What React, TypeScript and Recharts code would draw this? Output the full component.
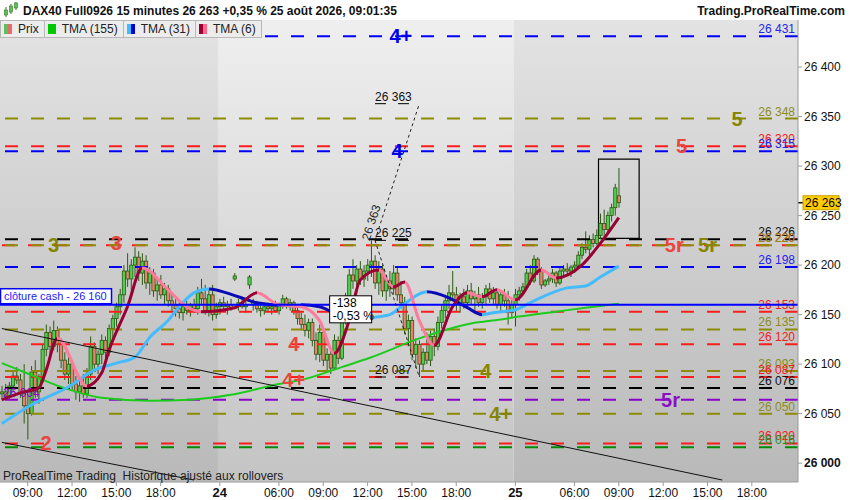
import React from 'react';
import {
  ComposedChart, Bar, Line, XAxis, YAxis,
  ReferenceLine, ReferenceArea, ReferenceDot,
} from 'recharts';

type OHLC = [number, number, number, number];

// 15 minute bars [open, high, low, close]
// 23 Aug, 07:15 -> 21:45
const day23: OHLC[] = [
  [26070, 26078, 26064, 26072], [26072, 26080, 26066, 26068], [26068, 26082, 26064, 26078],
  [26078, 26092, 26072, 26088], [26088, 26097, 26080, 26084], [26084, 26090, 26066, 26070], [26070, 26100, 26040, 26058],
  [26058, 26070, 26024, 26050], [26050, 26098, 26048, 26092], [26092, 26104, 26066, 26072], [26072, 26090, 26060, 26086],
  [26086, 26120, 26082, 26115], [26115, 26140, 26108, 26132], [26132, 26138, 26110, 26118], [26118, 26144, 26114, 26134],
  [26134, 26138, 26112, 26120], [26120, 26126, 26096, 26104], [26104, 26112, 26084, 26090], [26090, 26108, 26080, 26100],
  [26100, 26104, 26074, 26080], [26080, 26088, 26064, 26072], [26072, 26084, 26062, 26078], [26078, 26090, 26066, 26070],
  [26070, 26096, 26066, 26090], [26090, 26128, 26084, 26118], [26118, 26122, 26092, 26100], [26100, 26114, 26090, 26110],
  [26110, 26130, 26100, 26124], [26124, 26128, 26104, 26112], [26112, 26140, 26108, 26136], [26136, 26150, 26124, 26146],
  [26146, 26162, 26138, 26158], [26158, 26176, 26150, 26170], [26170, 26200, 26162, 26194], [26194, 26212, 26178, 26186],
  [26186, 26206, 26172, 26200], [26200, 26218, 26188, 26208], [26208, 26214, 26184, 26192], [26192, 26212, 26180, 26204],
  [26204, 26210, 26176, 26182], [26182, 26198, 26170, 26192], [26192, 26196, 26168, 26174], [26174, 26188, 26164, 26180],
  [26180, 26190, 26166, 26170], [26170, 26182, 26160, 26176], [26176, 26180, 26158, 26164], [26164, 26172, 26152, 26160],
  [26160, 26168, 26148, 26156], [26156, 26164, 26146, 26152], [26152, 26160, 26144, 26158], [26158, 26164, 26150, 26154],
  [26154, 26162, 26148, 26160], [26160, 26166, 26152, 26156], [26156, 26178, 26150, 26172], [26172, 26186, 26160, 26166],
  [26166, 26180, 26150, 26154], [26154, 26176, 26148, 26170], [26170, 26180, 26144, 26150], [26150, 26162, 26146, 26158],
];

// 24 Aug, 02:00 -> 21:45
const day24: OHLC[] = [
  [26158, 26166, 26150, 26162], [26162, 26168, 26154, 26158], [26158, 26164, 26150, 26160], [26160, 26166, 26154, 26156],
  [26186, 26192, 26184, 26189], [26160, 26166, 26154, 26162], [26162, 26168, 26156, 26158], [26158, 26164, 26152, 26160],
  [26180, 26190, 26176, 26188], [26160, 26166, 26154, 26162], [26162, 26164, 26152, 26156], [26156, 26160, 26148, 26154],
  [26154, 26162, 26150, 26158], [26158, 26162, 26152, 26156], [26156, 26160, 26150, 26158], [26158, 26164, 26152, 26154],
  [26154, 26162, 26150, 26160], [26160, 26170, 26156, 26166], [26166, 26168, 26156, 26160], [26160, 26166, 26154, 26162],
  [26162, 26164, 26150, 26154], [26154, 26160, 26140, 26146], [26146, 26152, 26134, 26140], [26140, 26150, 26128, 26134],
  [26134, 26146, 26126, 26142], [26142, 26146, 26118, 26124], [26124, 26132, 26104, 26110], [26110, 26140, 26102, 26132],
  [26132, 26136, 26098, 26104], [26104, 26116, 26092, 26110], [26110, 26114, 26090, 26096], [26096, 26130, 26094, 26124],
  [26124, 26128, 26100, 26106], [26106, 26150, 26104, 26146], [26146, 26172, 26140, 26166], [26166, 26196, 26160, 26190],
  [26190, 26206, 26176, 26184], [26184, 26200, 26170, 26196], [26196, 26204, 26180, 26186], [26186, 26200, 26178, 26194],
  [26194, 26206, 26184, 26200], [26200, 26225, 26188, 26204], [26204, 26210, 26176, 26182], [26182, 26204, 26170, 26196],
  [26196, 26200, 26168, 26174], [26174, 26190, 26164, 26184], [26184, 26194, 26168, 26176], [26176, 26200, 26170, 26192],
  [26192, 26198, 26164, 26170], [26170, 26184, 26156, 26162], [26162, 26168, 26130, 26136], [26136, 26150, 26118, 26144],
  [26144, 26148, 26104, 26110], [26110, 26126, 26096, 26120], [26120, 26124, 26087, 26100], [26100, 26116, 26092, 26112],
  [26112, 26132, 26100, 26104], [26104, 26134, 26098, 26128], [26128, 26136, 26108, 26118], [26118, 26148, 26114, 26142],
  [26142, 26160, 26136, 26154], [26154, 26170, 26146, 26164], [26164, 26180, 26156, 26172], [26172, 26194, 26166, 26170],
  [26170, 26178, 26154, 26160], [26160, 26172, 26152, 26168], [26168, 26176, 26156, 26162], [26162, 26180, 26158, 26174],
  [26174, 26182, 26160, 26166], [26166, 26174, 26154, 26170], [26170, 26178, 26158, 26162], [26162, 26172, 26156, 26168],
  [26168, 26180, 26160, 26176], [26176, 26182, 26162, 26166], [26166, 26178, 26160, 26172], [26172, 26176, 26156, 26160],
  [26160, 26174, 26154, 26170], [26170, 26176, 26158, 26164], [26164, 26174, 26140, 26152], [26152, 26166, 26146, 26160],
];

// 25 Aug, 02:00 -> 09:00
const day25: OHLC[] = [
  [26160, 26176, 26138, 26170], [26170, 26178, 26164, 26174], [26174, 26182, 26170, 26178], [26178, 26196, 26176, 26192],
  [26192, 26200, 26180, 26184], [26184, 26210, 26182, 26206], [26206, 26208, 26190, 26194], [26194, 26198, 26176, 26180],
  [26180, 26186, 26178, 26184], [26184, 26190, 26180, 26186], [26186, 26196, 26182, 26192], [26192, 26194, 26178, 26182],
  [26182, 26198, 26180, 26194], [26194, 26200, 26188, 26196], [26196, 26202, 26190, 26194], [26194, 26200, 26188, 26198],
  [26198, 26204, 26192, 26200], [26200, 26214, 26196, 26210], [26210, 26222, 26206, 26218], [26218, 26234, 26212, 26216],
  [26216, 26230, 26210, 26226], [26226, 26232, 26218, 26222], [26222, 26236, 26220, 26230], [26230, 26252, 26226, 26242],
  [26242, 26256, 26228, 26236], [26236, 26254, 26232, 26250], [26250, 26262, 26244, 26258], [26258, 26282, 26250, 26278],
  [26270, 26298, 26258, 26263],
];

const SLOTS = 216; // bar slots on the time axis, up to 25 Aug 21:00

// moving averages read at a few bars: [bar slot, value]
const tma155: [number, number][] = [
  [0, 26101], [8, 26089], [16, 26077], [27, 26066], [40, 26063], [51, 26064], [62, 26069], [75, 26080],
  [81, 26084], [92, 26097], [100, 26107], [113, 26126], [127, 26141], [135, 26145], [140, 26148],
  [150, 26153], [158, 26157], [167, 26161],
];
const tma31: [number, number][] = [
  [0, 26040], [9, 26061], [18, 26077], [25, 26094], [31, 26101], [36, 26107], [40, 26127], [45, 26144],
  [48, 26158], [52, 26172], [56, 26176], [64, 26168], [69, 26162], [78, 26159], [81, 26160], [86, 26158],
  [94, 26146], [100, 26147], [105, 26150], [109, 26161], [115, 26173], [121, 26167], [126, 26157],
  [130, 26150], [133, 26152], [139, 26155], [144, 26164], [153, 26177], [158, 26179], [162, 26188], [167, 26199],
];
const tma6: [number, number][] = [
  [0, 26064], [5, 26071], [10, 26076], [12, 26094], [15, 26126], [23, 26078], [27, 26091], [29, 26114],
  [34, 26158], [38, 26197], [45, 26175], [50, 26158], [54, 26153], [63, 26157], [69, 26172], [75, 26160],
  [81, 26158], [86, 26144], [90, 26111], [94, 26144], [97, 26185], [102, 26195], [106, 26178], [109, 26183],
  [113, 26144], [117, 26119], [122, 26158], [126, 26172], [130, 26168], [134, 26175], [139, 26165],
  [146, 26195], [150, 26187], [157, 26200], [162, 26222], [167, 26248],
];

const tickSlots = [7, 19, 31, 43, 59, 75, 87, 99, 111, 123, 139, 155, 167, 179, 191, 203];
const tickLabels = ['09:00', '12:00', '15:00', '18:00', '24', '06:00', '09:00', '12:00', '15:00', '18:00',
  '25', '06:00', '09:00', '12:00', '15:00', '18:00'];
const priceTicks = [26000, 26050, 26100, 26150, 26200, 26250, 26300, 26350, 26400];

const dayFirst = [0, 59, 139];
const dayLast = [58, 138, 215];

// pivot levels
const levelValues = [26431, 26348, 26320, 26315, 26226, 26220, 26220, 26198, 26153, 26135, 26120,
  26093, 26087, 26076, 26064, 26050, 26020, 26016];
const levelKinds = ['blue', 'olive', 'red', 'blue', 'black', 'red', 'olive', 'blue', 'red', 'olive', 'red',
  'olive', 'red', 'black', 'purple', 'olive', 'red', 'green'];

const tagTexts = ['4+', '5', '5', '4', '3', '3', '5r', '5r', '4', '4+', '4', '4+', '5r', '2'];
const tagSlots = [108, 199, 184, 107, 14, 31, 182, 191, 79, 79, 131, 135, 181, 12];
const tagValues = [26431, 26348, 26320, 26315, 26220, 26222, 26220, 26220, 26120, 26084, 26093, 26050, 26064, 26020];
const tagKinds = ['blue', 'olive', 'red', 'blue', 'olive', 'red', 'red', 'olive', 'red', 'red', 'olive', 'olive', 'purple', 'red'];

const closeCash = 26160;
const lastPrice = 26263;

// measuring tool: peak -> low, projected top
const measureSlots = [101, 113];
const measureValues = [26225, 26087, 26363];
const measureGap = [-138, -0.53];

const trendA: [number, number][] = [[0, 26136], [195, 25983]];
const trendB: [number, number][] = [[0, 26021], [52, 25983]];

const boxSlots = [162, 172];
const boxValues = [26227, 26307];

const LINE_COL: Record<string, string> = {
  blue: '#0000ff', olive: '#8c8c00', red: '#ff1c1c', black: '#000000', purple: '#8a00cc', green: '#008a00',
};
const TEXT_COL: Record<string, string> = {
  blue: '#2424ee', olive: '#8c8c20', red: '#f02020', black: '#111111', purple: '#8a00cc', green: '#209020',
};
const TAG_COL: Record<string, string> = {
  blue: '#0000ee', olive: '#858500', red: '#e8463e', purple: '#8a10c8',
};

const WICK = '#2c5a14';
const UP = '#4ed04e';
const DOWN = '#ee8070';

const candles = [...day23, ...day24, ...day25];
const at = (knots: [number, number][], i: number) => {
  const k = knots.find((p) => p[0] === i);
  return k ? k[1] : null;
};
const rows = Array.from({ length: SLOTS }, (_, i) => {
  const b = candles[i];
  return {
    i,
    o: b ? b[0] : null, h: b ? b[1] : null, l: b ? b[2] : null, c: b ? b[3] : null,
    t155: at(tma155, i), t31: at(tma31, i), t6: at(tma6, i),
  };
});

const fmt = (v: number) => `${Math.floor(v / 1000)} ${String(Math.round(v) % 1000).padStart(3, '0')}`;

function dirStops(knots: [number, number][], up: string, down: string) {
  const a = knots[0][0];
  const z = knots[knots.length - 1][0];
  const out: React.ReactNode[] = [];
  for (let k = 0; k < knots.length - 1; k++) {
    const col = knots[k + 1][1] >= knots[k][1] ? up : down;
    out.push(<stop key={`${k}a`} offset={(knots[k][0] - a) / (z - a)} stopColor={col} />);
    out.push(<stop key={`${k}b`} offset={(knots[k + 1][0] - a) / (z - a)} stopColor={col} />);
  }
  return out;
}

const Candle = (p: any) => {
  const { x, y, width, height, payload } = p;
  if (!payload || payload.o == null) return null;
  const { o, h, l, c } = payload;
  const top = Math.min(y, y + height);
  const span = Math.abs(height);
  const py = (v: number) => top + ((h - v) / (h - l || 1)) * span;
  const cx = x + width / 2;
  const bt = py(Math.max(o, c));
  const bb = py(Math.min(o, c));
  return (
    <g>
      <line x1={cx} x2={cx} y1={top} y2={top + span} stroke={WICK} strokeWidth={1} />
      <rect x={cx - 1.6} y={bt} width={3.2} height={Math.max(bb - bt, 1)}
        fill={c >= o ? UP : DOWN} stroke={WICK} strokeWidth={0.8} />
    </g>
  );
};

const TimeTick = (p: any) => {
  const idx = tickSlots.indexOf(p.payload.value);
  const lab = tickLabels[idx] ?? '';
  const day = !lab.includes(':');
  return (
    <text x={p.x} y={p.y} dy={9} textAnchor="middle" fontSize={day ? 13 : 12}
      fontWeight={day ? 'bold' : 'normal'} fill="#111">{lab}</text>
  );
};

const PriceTick = (p: any) => (
  <text x={p.x} y={p.y} dy={4} textAnchor="start" fontSize={12}
    fontWeight={p.payload.value % 1000 === 0 ? 'bold' : 'normal'} fill="#111">{fmt(p.payload.value)}</text>
);

const legendItems = [
  { label: 'Prix', sw: ['#5cc05c', '#e86a6a'] },
  { label: 'TMA (155)', sw: ['#00c800', '#00c800'] },
  { label: 'TMA (31)', sw: ['#40bbff', '#0000cc'] },
  { label: 'TMA (6)', sw: ['#990033', '#ff6688'] },
];

export default function App() {
  return (
    <div style={{
      position: 'absolute', left: 0, top: 0, width: 850, height: 500, background: '#fff',
      fontFamily: '"Liberation Sans", Arial, sans-serif', overflow: 'hidden',
    }}>
      <ComposedChart width={850} height={500} data={rows} barCategoryGap={0}
        margin={{ top: 20, right: 0, bottom: 0, left: 0 }}>
        <defs>
          <linearGradient id="bandDark" x1="0" y1="0" x2="0" y2="1">
            <stop offset="0" stopColor="#e3e3e3" />
            <stop offset="1" stopColor="#b9b9b9" />
          </linearGradient>
          <linearGradient id="bandLight" x1="0" y1="0" x2="0" y2="1">
            <stop offset="0" stopColor="#efefef" />
            <stop offset="1" stopColor="#c4c4c4" />
          </linearGradient>
          <linearGradient id="g31" x1="0" y1="0" x2="1" y2="0">{dirStops(tma31, '#44bbff', '#0a0ab4')}</linearGradient>
          <linearGradient id="g6" x1="0" y1="0" x2="1" y2="0">{dirStops(tma6, '#990033', '#ff7a9c')}</linearGradient>
        </defs>
        <XAxis dataKey="i" type="category" ticks={tickSlots} interval={0} height={18} tickSize={4}
          tick={<TimeTick />} axisLine={{ stroke: '#9a9a9a' }} tickLine={{ stroke: '#9a9a9a' }} />
        <YAxis orientation="right" width={52} domain={[25981, 26447.5]} allowDataOverflow ticks={priceTicks}
          interval={0} tickSize={4} tick={<PriceTick />} axisLine={{ stroke: '#9a9a9a' }} tickLine={{ stroke: '#9a9a9a' }} />

        {dayFirst.map((d, k) => (
          <ReferenceArea key={`band${k}`} x1={d} x2={dayLast[k]} fill={k === 1 ? 'url(#bandLight)' : 'url(#bandDark)'}
            fillOpacity={1} stroke="none" />
        ))}

        <Bar dataKey={(d: any) => (d.o == null ? null : [d.l, d.h])} shape={(p: any) => <Candle {...p} />}
          isAnimationActive={false} />

        {levelValues.map((v, k) => (
          <ReferenceLine key={`lv${k}`} y={v} stroke={LINE_COL[levelKinds[k]]} strokeWidth={2}
            strokeDasharray="13 13" strokeDashoffset={levelKinds[k] === 'red' && v === 26220 ? -3 : 0}
            label={levelKinds[k] === 'purple' ? (p: any) => (
              <text x={p.viewBox.x + 3} y={p.viewBox.y - 3} fontSize={12} fill={TEXT_COL.purple}>{fmt(v)}</text>
            ) : (p: any) => (
              <text x={p.viewBox.x + p.viewBox.width - 3} y={p.viewBox.y - 3} textAnchor="end" fontSize={12}
                fill={TEXT_COL[levelKinds[k]]}>{fmt(v)}</text>
            )} />
        ))}

        <Line dataKey="t155" type="monotone" connectNulls dot={false} stroke="#1ccc1c" strokeWidth={2}
          isAnimationActive={false} />
        <Line dataKey="t31" type="monotone" connectNulls dot={false} stroke="url(#g31)" strokeWidth={3}
          isAnimationActive={false} />
        <Line dataKey="t6" type="monotone" connectNulls dot={false} stroke="url(#g6)" strokeWidth={3}
          isAnimationActive={false} />

        <ReferenceLine segment={trendA.map(([x, y]) => ({ x, y }))} stroke="#111" strokeWidth={1} ifOverflow="hidden" />
        <ReferenceLine segment={trendB.map(([x, y]) => ({ x, y }))} stroke="#111" strokeWidth={1} ifOverflow="hidden" />

        <ReferenceDot x={89} y={26169} r={1} fill="none" stroke="none" label={(p: any) => (
          <g>
            <rect x={p.viewBox.x} y={p.viewBox.y + 1} width={42} height={27} fill="#fff" stroke="#000" />
            <text x={p.viewBox.x + 3} y={p.viewBox.y + 12} fontSize={12} fill="#000">{measureGap[0]}</text>
            <text x={p.viewBox.x + 3} y={p.viewBox.y + 25} fontSize={12} fill="#000">
              {`${String(measureGap[1]).replace('.', ',')} %`}
            </text>
          </g>
        )} />

        <ReferenceLine y={closeCash} stroke="#0000ff" strokeWidth={2} label={(p: any) => (
          <g>
            <rect x={p.viewBox.x + 0.5} y={p.viewBox.y - 16} width={111} height={15} fill="#fff" stroke="#0000ff" strokeWidth={1.5} />
            <text x={p.viewBox.x + 4} y={p.viewBox.y - 4.5} fontSize={11} fill="#1a1aff">{`clôture cash -  ${fmt(closeCash)}`}</text>
          </g>
        )} />

        <ReferenceLine segment={[{ x: measureSlots[0], y: measureValues[0] }, { x: measureSlots[1], y: measureValues[1] }]}
          stroke="#222" strokeDasharray="3 3" strokeWidth={1} />
        <ReferenceLine segment={[{ x: measureSlots[0], y: measureValues[0] }, { x: measureSlots[1], y: measureValues[2] }]}
          stroke="#222" strokeDasharray="3 3" strokeWidth={1} />
        {measureValues.map((v, k) => (
          <ReferenceLine key={`mv${k}`} segment={[{ x: measureSlots[0], y: v }, { x: measureSlots[0] + 10, y: v }]}
            stroke="#000" strokeDasharray="11 12" strokeWidth={1}
            label={(p: any) => (
              <text x={p.viewBox.x + p.viewBox.width / 2} y={p.viewBox.y - 3} textAnchor="middle" fontSize={12}
                fill="#111">{fmt(v)}</text>
            )} />
        ))}
        <ReferenceDot x={100} y={26243} r={1} fill="none" stroke="none" label={(p: any) => {
          const cx = p.viewBox.x + p.viewBox.width / 2;
          const cy = p.viewBox.y + p.viewBox.height / 2;
          return (
            <text x={cx} y={cy} transform={`rotate(-72 ${cx} ${cy})`} textAnchor="middle" dominantBaseline="central"
              fontSize={12} fill="#222">{fmt(measureValues[2])}</text>
          );
        }} />

        <ReferenceArea x1={boxSlots[0]} x2={boxSlots[1]} y1={boxValues[0]} y2={boxValues[1]}
          fill="none" fillOpacity={0} stroke="#000" strokeWidth={1.2} />

        {tagTexts.map((t, k) => (
          <ReferenceDot key={`tag${k}`} x={tagSlots[k]} y={tagValues[k]} r={1} fill="none" stroke="none"
            label={(p: any) => (
              <text x={p.viewBox.x + p.viewBox.width / 2} y={p.viewBox.y + p.viewBox.height / 2} dy={7}
                textAnchor="middle" fontSize={20} fontWeight="bold" fill={TAG_COL[tagKinds[k]]}>{t}</text>
            )} />
        ))}

        <ReferenceLine y={lastPrice} stroke="none" label={(p: any) => {
          const x0 = p.viewBox.x + p.viewBox.width;
          return (
            <g>
              <line x1={x0} x2={x0 + 5} y1={p.viewBox.y} y2={p.viewBox.y} stroke="#000" strokeWidth={1.5} />
              <rect x={x0 + 5} y={p.viewBox.y - 7} width={36} height={14} fill="#ffcc00" stroke="#c8a200" />
              <text x={x0 + 7} y={p.viewBox.y + 4.5} fontSize={12} fill="#000">{fmt(lastPrice)}</text>
            </g>
          );
        }} />
      </ComposedChart>

      <svg width={16} height={18} style={{ position: 'absolute', left: 3, top: 1 }}>
        <line x1={3} x2={3} y1={6} y2={16} stroke="#3a7a20" />
        <rect x={1.5} y={9} width={3} height={5} fill="#5cc05c" stroke="#3a7a20" strokeWidth={0.6} />
        <line x1={8} x2={8} y1={3} y2={13} stroke="#3a7a20" />
        <rect x={6.5} y={5} width={3} height={6} fill="#5cc05c" stroke="#3a7a20" strokeWidth={0.6} />
        <line x1={13} x2={13} y1={1} y2={9} stroke="#3a7a20" />
        <rect x={11.5} y={2} width={3} height={5} fill="#5cc05c" stroke="#3a7a20" strokeWidth={0.6} />
      </svg>
      <div style={{ position: 'absolute', left: 23, top: 4, fontSize: 12, fontWeight: 'bold', color: '#111', whiteSpace: 'nowrap' }}>
        DAX40 Full0926 15 minutes 26 263 +0,35 % 25 août 2026, 09:01:35
      </div>
      <div style={{ position: 'absolute', right: 5, top: 4, fontSize: 12, fontWeight: 'bold', color: '#111' }}>
        Trading.ProRealTime.com
      </div>
      <div style={{ position: 'absolute', left: 0, top: 20, display: 'flex' }}>
        {legendItems.map((it) => (
          <div key={it.label} style={{
            display: 'flex', alignItems: 'center', height: 16, padding: '0 5px 0 3px', marginRight: -1,
            background: '#ececec', border: '1px solid #b8b8b8', fontSize: 12, color: '#222', whiteSpace: 'nowrap',
          }}>
            <span style={{ display: 'inline-block', width: 4, height: 10, background: it.sw[0] }} />
            <span style={{ display: 'inline-block', width: 4, height: 10, background: it.sw[1], marginRight: 6 }} />
            {it.label}
          </div>
        ))}
      </div>
      <div style={{ position: 'absolute', left: 3, top: 469, fontSize: 12, color: '#222', whiteSpace: 'nowrap' }}>
        ProRealTime Trading&nbsp; Historique ajusté aux rollovers
      </div>
    </div>
  );
}
